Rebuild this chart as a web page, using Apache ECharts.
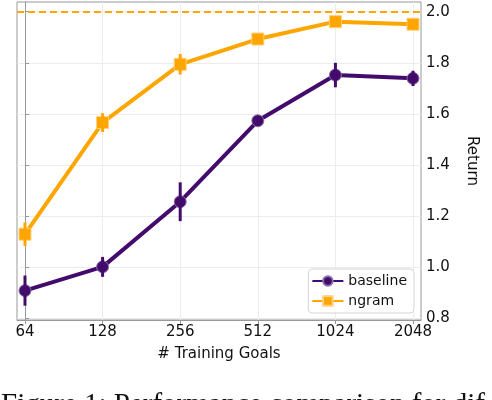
<!DOCTYPE html>
<html>
<head>
<meta charset="utf-8">
<script src="https://cdn.jsdelivr.net/npm/echarts@6/dist/echarts.min.js"></script>
<style>
  html, body { margin: 0; padding: 0; background: #fff; }
  #chart { width: 492px; height: 400px; }
</style>
</head>
<body>
<div id="chart"></div>
<script>
// data
var goals = ['64', '128', '256', '512', '1024', '2048'];
var baseline = [0.908, 1.001, 1.256, 1.573, 1.752, 1.739];
var baselineErr = [0.059, 0.039, 0.076, 0.01, 0.048, 0.03];
var ngram = [1.129, 1.566, 1.794, 1.893, 1.961, 1.951];
var ngramErr = [0.046, 0.037, 0.04, 0.01, 0.012, 0.015];
var target = 2.0;
var yTicks = [0.8, 1.0, 1.2, 1.4, 1.6, 1.8, 2.0];

var purple = '#430b6c';
var orange = '#ffa500';
var font = 'DejaVu Sans';

var myChart = echarts.init(document.getElementById('chart'));

function pts(vals) {
	return vals.map(function(v, i) { return [i, v]; });
}
function errData(vals, errs) {
	return vals.map(function(v, i) { return [i, v - errs[i], v + errs[i]]; });
}
function errBars(color) {
	return function(params, api) {
		var a = api.coord([api.value(0), api.value(1)]);
		var b = api.coord([api.value(0), api.value(2)]);
		return {
			type: 'line',
			shape: { x1: a[0], y1: a[1], x2: b[0], y2: b[1] },
			style: { stroke: color, lineWidth: 3 }
		};
	};
}

var option = {
	animation: false,
	grid: {
		left: 17, right: 71, top: 2, bottom: 80,
		show: true, borderColor: '#999', borderWidth: 1
	},
	legend: {
		orient: 'vertical',
		right: 78, bottom: 87,
		data: ['baseline', 'ngram'],
		itemWidth: 31, itemHeight: 12, itemGap: 6,
		borderColor: '#d5d5d5', borderWidth: 1, borderRadius: 4,
		padding: [5, 7, 5, 3],
		backgroundColor: '#fff',
		textStyle: { fontFamily: font, fontSize: 14, color: '#111' }
	},
	xAxis: {
		type: 'value',
		min: -0.103, max: 5.103,
		name: '# Training Goals',
		nameLocation: 'middle',
		nameGap: 27,
		nameTextStyle: { fontFamily: font, fontSize: 15, color: '#111' },
		axisLine: { show: true, lineStyle: { color: '#999' } },
		axisTick: { show: true, length: 4, customValues: [0, 1, 2, 3, 4, 5], lineStyle: { color: '#999' } },
		axisLabel: {
			customValues: [0, 1, 2, 3, 4, 5],
			margin: 5,
			fontFamily: font, fontSize: 15, color: '#111',
			formatter: function(v) { return goals[Math.round(v)]; }
		},
		splitLine: { show: true, lineStyle: { color: '#ececec' } }
	},
	yAxis: {
		type: 'value',
		position: 'right',
		min: 0.793, max: 2.038,
		name: 'Return',
		nameLocation: 'middle',
		nameRotate: -90,
		nameGap: 43,
		nameTextStyle: { fontFamily: font, fontSize: 15, color: '#111' },
		axisLine: { show: true, lineStyle: { color: '#999' } },
		axisTick: { show: true, length: 4, customValues: yTicks, lineStyle: { color: '#999' } },
		axisLabel: {
			customValues: yTicks,
			margin: 5,
			fontFamily: font, fontSize: 15, color: '#111',
			formatter: function(v) { return v.toFixed(1); }
		},
		splitLine: { show: true, lineStyle: { color: '#ececec' } }
	},
	series: [{
		name: 'baseline',
		type: 'line',
		data: pts(baseline),
		symbol: 'circle',
		symbolSize: 12,
		lineStyle: { color: purple, width: 4 },
		itemStyle: { color: purple, borderColor: '#8a70a8', borderWidth: 1 },
		z: 3
	}, {
		name: 'ngram',
		type: 'line',
		data: pts(ngram),
		symbol: 'rect',
		symbolSize: 12,
		lineStyle: { color: orange, width: 4 },
		itemStyle: { color: orange, borderColor: '#ffd07a', borderWidth: 1 },
		z: 3,
		markLine: {
			silent: true,
			symbol: 'none',
			label: { show: false },
			lineStyle: { color: orange, type: [7, 4], width: 2 },
			data: [{ yAxis: target }]
		}
	}, {
		name: 'baseline',
		type: 'custom',
		renderItem: errBars(purple),
		data: errData(baseline, baselineErr),
		encode: { x: 0, y: [1, 2] },
		z: 4
	}, {
		name: 'ngram',
		type: 'custom',
		renderItem: errBars(orange),
		data: errData(ngram, ngramErr),
		encode: { x: 0, y: [1, 2] },
		z: 4
	}],
	graphic: [{
		type: 'text',
		left: 1, top: 391,
		style: {
			text: 'Figure 1: Performance comparison for dif',
			fontFamily: 'Liberation Serif', fontSize: 29, fill: '#111'
		}
	}]
};
myChart.setOption(option);
</script>
</body>
</html>
